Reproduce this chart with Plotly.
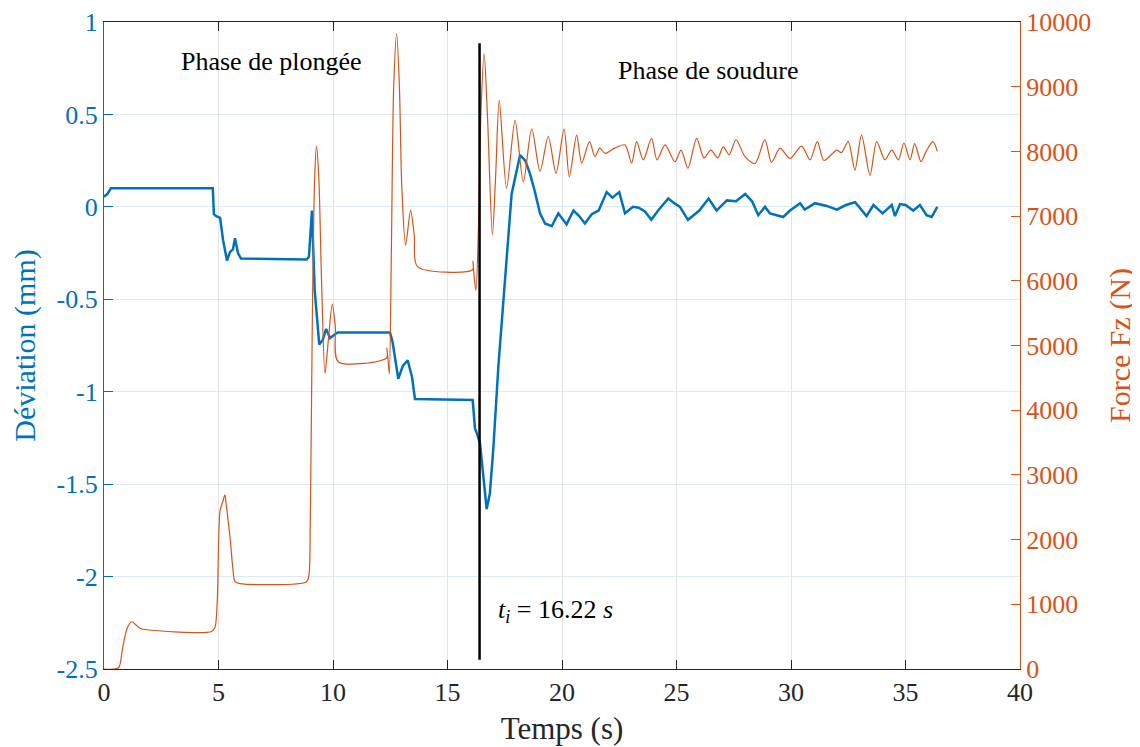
import plotly.graph_objects as go

# ---- Data: deviation (mm) vs time (s) ----
t_dev = [0, 0.15, 0.3, 4.75, 4.8, 4.9, 5.07, 5.2, 5.37, 5.5, 5.63, 5.72, 5.85, 5.98,
         8.85, 8.95, 9.08, 9.2, 9.4, 9.55, 9.7, 9.87, 10.2, 12.49, 12.6, 12.85, 13.05,
         13.26, 13.45, 13.58, 16.1, 16.2, 16.27, 16.42, 16.6, 16.71, 16.85, 17.0, 17.22,
         17.47, 17.8, 18.17, 18.4, 18.6, 18.8, 19.04, 19.26, 19.55, 19.84, 20.2, 20.5,
         20.75, 21.0, 21.3, 21.6, 21.95, 22.2, 22.5, 22.75, 23.1, 23.35, 23.62, 23.9,
         24.2, 24.64, 24.9, 25.15, 25.5, 26.0, 26.4, 26.75, 27.2, 27.6, 28.0, 28.3,
         28.57, 28.86, 29.08, 29.66, 29.96, 30.4, 30.6, 31.05, 31.56, 32.0, 32.4, 32.8,
         33.3, 33.6, 34.0, 34.4, 34.54, 34.76, 35.0, 35.34, 35.63, 35.92, 36.14, 36.39]
dev = [0.055, 0.07, 0.1, 0.1, -0.04, -0.05, -0.06, -0.18, -0.29, -0.245, -0.23, -0.17, -0.25, -0.28,
       -0.285, -0.27, -0.02, -0.45, -0.745, -0.72, -0.66, -0.71, -0.68, -0.68, -0.73, -0.93, -0.86,
       -0.83, -0.92, -1.04, -1.045, -1.2, -1.22, -1.28, -1.5, -1.635, -1.55, -1.31, -0.865,
       -0.45, 0.07, 0.28, 0.25, 0.18, 0.09, -0.035, -0.09, -0.105, -0.035, -0.095, -0.02,
       -0.05, -0.09, -0.04, -0.02, 0.08, 0.05, 0.08, -0.035, 0.0, -0.005, -0.025, -0.07,
       -0.02, 0.045, 0.02, 0.0, -0.07, -0.02, 0.045, -0.02, 0.035, 0.03, 0.07, 0.03,
       -0.045, 0.0, -0.035, -0.055, -0.02, 0.02, -0.015, 0.02, 0.005, -0.015, 0.01, 0.025,
       -0.05, 0.01, -0.035, 0.01, -0.05, 0.015, 0.01, -0.02, 0.01, -0.045, -0.055, 0.0]

# ---- Data: force Fz (N) vs time (s) ----
t_force = [0, 0.63, 0.8, 1.0, 1.21, 1.4, 1.57, 1.8, 4.7, 4.85, 4.95, 5.07, 5.2, 5.28, 5.35,
           5.5, 5.62, 5.72, 5.94, 8.85, 8.95, 9.0, 9.1, 9.2, 9.28, 9.38, 9.5, 9.65, 9.8,
           9.97, 10.1, 10.23, 12.34, 12.35, 12.4, 12.46, 12.55, 12.65, 12.78, 12.9, 13.0,
           13.17, 13.39, 13.55, 13.69, 16.1, 16.11, 16.15, 16.24, 16.35, 16.45, 16.6, 16.75,
           16.96, 17.1, 17.26, 17.58, 17.95, 18.31, 18.68, 19.04, 19.4, 19.74, 20.09, 20.32,
           20.64, 20.86, 21.2, 21.44, 21.65, 21.88, 22.3, 22.75, 23.04, 23.26, 23.55, 23.91,
           24.15, 24.5, 24.93, 25.2, 25.5, 25.88, 26.2, 26.5, 26.8, 27.04, 27.3, 27.6, 27.99,
           28.43, 28.86, 29.15, 29.52, 29.96, 30.46, 30.83, 31.15, 31.44, 32.0, 32.2, 32.5,
           32.79, 33.08, 33.45, 33.74, 34.1, 34.4, 34.69, 34.93, 35.2, 35.4, 35.68, 35.9,
           36.2, 36.39]
force = [0, 20, 300, 620, 730, 680, 630, 610, 580, 650, 1100, 2450, 2600, 2690, 2500,
         2050, 1580, 1350, 1320, 1350, 1450, 2000, 5500, 7600, 8080, 7600, 6000, 4570, 5100,
         5640, 5300, 4750, 4810, 4960, 4800, 4560, 6500, 9000, 9820, 9000, 7500,
         6550, 7090, 6700, 6220, 6170, 6300, 6120, 5850, 6800, 8500, 9510, 8500,
         6710, 7600, 8790, 7430, 8480, 7530, 8350, 7690, 8230, 7660, 8350, 7610,
         8250, 7820, 8150, 7920, 8050, 7970, 8050, 8100, 7820, 8150, 7870, 8200,
         7870, 8100, 7840, 8020, 7740, 8200, 7900, 8020, 7900, 8070, 7950, 8180, 7920,
         7815, 8180, 7830, 8050, 7890, 8080, 7870, 8150, 7860, 8020, 7980, 8150,
         7710, 8250, 7630, 8150, 7870, 8020, 7870, 8130, 7870, 8120, 7840, 8000,
         8150, 8000]

# ---- Ticks / labels ----
x_ticks = [0, 5, 10, 15, 20, 25, 30, 35, 40]
y_ticks = [1, 0.5, 0, -0.5, -1, -1.5, -2, -2.5]
y_ticktext = ["1", "0.5", "0", "-0.5", "-1", "-1.5", "-2", "-2.5"]
y2_ticks = [0, 1000, 2000, 3000, 4000, 5000, 6000, 7000, 8000, 9000, 10000]
y2_ticktext = ["0", "1000", "2000", "3000", "4000", "5000", "6000", "7000", "8000", "9000", "10000"]
t_impact = 16.4
t_impact_label = "16.22"

BLUE = "#0072BD"
ORANGE = "#D95319"
DARK = "#262626"
FONT = "Liberation Serif"

fig = go.Figure()
fig.add_trace(go.Scatter(x=t_force, y=force, yaxis="y2", mode="lines",
                         line=dict(color=ORANGE, width=1.2, shape="spline", smoothing=0.8),
                         showlegend=False))
fig.add_trace(go.Scatter(x=t_dev, y=dev, yaxis="y", mode="lines",
                         line=dict(color=BLUE, width=2.5), showlegend=False))

fig.add_shape(type="line", xref="x", yref="y", x0=t_impact, x1=t_impact,
              y0=-2.45, y1=0.885, line=dict(color="black", width=2.5), layer="above")

fig.add_annotation(x=7.3, y=0.784, xref="x", yref="y", text="Phase de plongée",
                   showarrow=False, font=dict(family=FONT, size=26, color="black"))
fig.add_annotation(x=26.4, y=0.74, xref="x", yref="y", text="Phase de soudure",
                   showarrow=False, font=dict(family=FONT, size=26, color="black"))
fig.add_annotation(x=17.1, y=-2.186, xref="x", yref="y", xanchor="left",
                   text="<i>t</i><sub><i>i</i></sub> = " + t_impact_label + " <i>s</i>",
                   showarrow=False, font=dict(family=FONT, size=26, color="black"))

fig.update_layout(
    width=1140, height=747,
    margin=dict(l=96, r=128, t=14, b=86),
    paper_bgcolor="white", plot_bgcolor="white",
    showlegend=False,
    xaxis=dict(range=[0, 40], tickvals=x_ticks, ticks="inside", ticklen=9,
               tickcolor=DARK, showline=True, linecolor=DARK, linewidth=1.2,
               mirror="ticks", showgrid=True, gridcolor="#e4e4e4", zeroline=False,
               automargin=False,
               tickfont=dict(family=FONT, size=26, color=DARK),
               title=dict(text="Temps (s)", font=dict(family=FONT, size=31, color=DARK),
                          standoff=11)),
    yaxis=dict(range=[-2.5, 1], tickvals=y_ticks, ticktext=y_ticktext, ticks="inside",
               ticklen=9, tickcolor=BLUE, showline=True, linecolor=BLUE, linewidth=1.2,
               showgrid=True, gridcolor="#dde9f5", zeroline=False, automargin=False,
               tickfont=dict(family=FONT, size=26, color=BLUE),
               title=dict(text="Déviation (mm)", font=dict(family=FONT, size=30, color=BLUE),
                          standoff=12)),
    yaxis2=dict(range=[0, 10000], tickvals=y2_ticks, ticktext=y2_ticktext,
                overlaying="y", side="right", automargin=False,
                ticks="inside", ticklen=9, tickcolor=ORANGE, showline=True,
                linecolor=ORANGE, linewidth=1.2, showgrid=False, zeroline=False,
                tickfont=dict(family=FONT, size=26, color=ORANGE),
                title=dict(text="Force Fz (N)", font=dict(family=FONT, size=30, color=ORANGE),
                           standoff=18)),
)

fig.write_html("out.html")
